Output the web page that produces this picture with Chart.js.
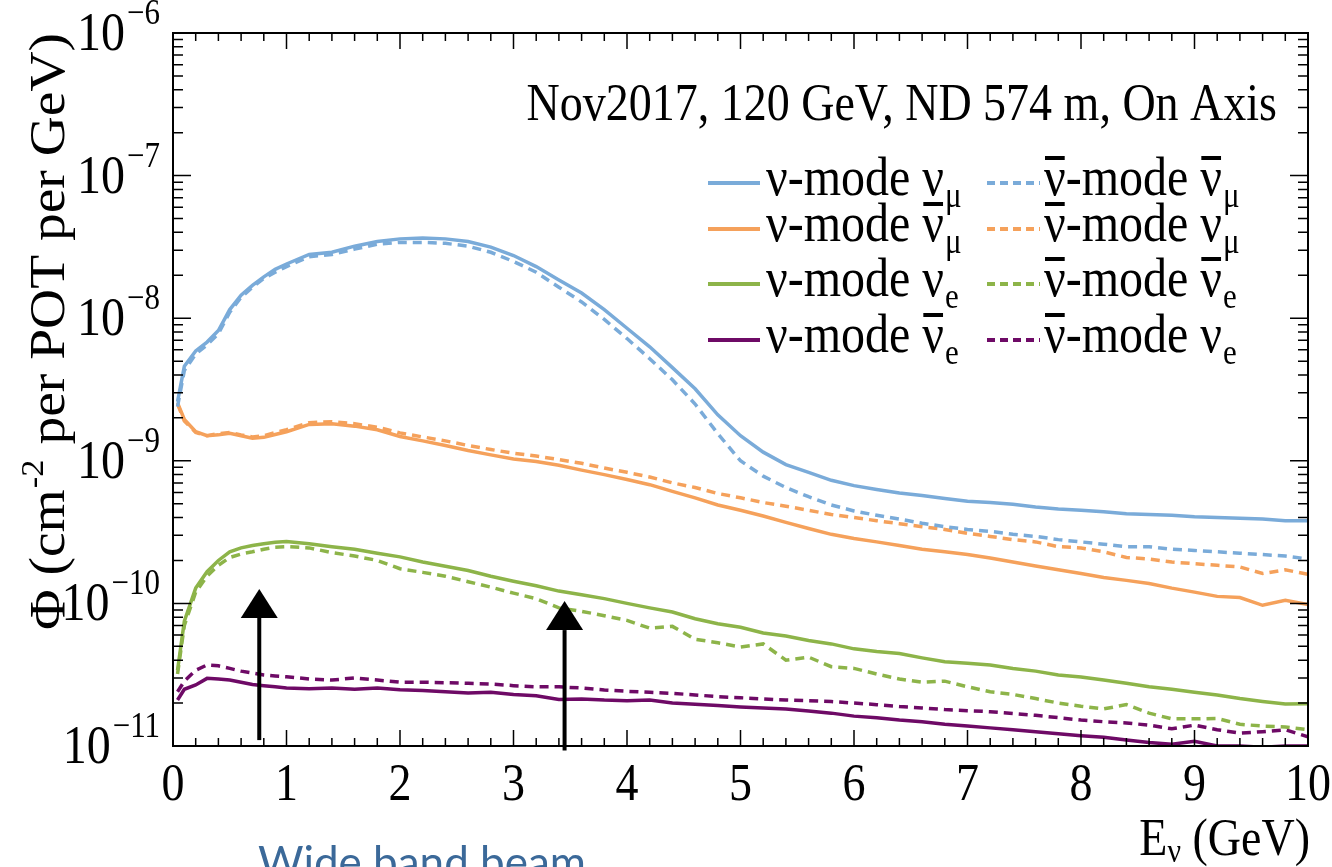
<!DOCTYPE html>
<html>
<head>
<meta charset="utf-8">
<script src="https://cdn.jsdelivr.net/npm/chart.js@4.4.1/dist/chart.umd.min.js"></script>
<style>
  body { margin: 0; background: #fff; }
  canvas { display: block; }
</style>
</head>
<body>
<canvas id="flux" width="1332" height="867"></canvas>
<script>
'use strict';

// neutrino energy (GeV)
var energy = [0.04, 0.1, 0.2, 0.3, 0.4, 0.5, 0.6, 0.7, 0.8, 0.9, 1.0, 1.2, 1.4, 1.6, 1.8, 2.0, 2.2, 2.4, 2.6, 2.8,
  3.0, 3.2, 3.4, 3.6, 3.8, 4.0, 4.2, 4.4, 4.6, 4.8, 5.0, 5.2, 5.4, 5.6, 5.8, 6.0, 6.2, 6.4, 6.6, 6.8,
  7.0, 7.2, 7.4, 7.6, 7.8, 8.0, 8.2, 8.4, 8.6, 8.8, 9.0, 9.2, 9.4, 9.6, 9.8, 10.0];

// nu-mode numu
var fhcNumu = [2.6e-9, 4.6e-9, 5.9e-9, 6.8e-9, 8.2e-9, 1.15e-8, 1.45e-8, 1.7e-8, 1.95e-8, 2.2e-8, 2.4e-8, 2.8e-8, 2.9e-8, 3.2e-8, 3.45e-8, 3.6e-8, 3.65e-8, 3.6e-8, 3.45e-8, 3.15e-8,
  2.75e-8, 2.3e-8, 1.85e-8, 1.5e-8, 1.15e-8, 8.5e-9, 6.3e-9, 4.5e-9, 3.2e-9, 2.1e-9, 1.5e-9, 1.15e-9, 9.4e-10, 8.3e-10, 7.3e-10, 6.7e-10, 6.3e-10, 5.95e-10, 5.7e-10, 5.45e-10,
  5.2e-10, 5.1e-10, 4.95e-10, 4.75e-10, 4.6e-10, 4.5e-10, 4.4e-10, 4.25e-10, 4.2e-10, 4.15e-10, 4.05e-10, 4.0e-10, 3.95e-10, 3.9e-10, 3.8e-10, 3.8e-10];
// antinu-mode numubar
var rhcNumubar = [2.4e-9, 4.3e-9, 5.6e-9, 6.5e-9, 7.8e-9, 1.1e-8, 1.4e-8, 1.65e-8, 1.9e-8, 2.1e-8, 2.3e-8, 2.7e-8, 2.8e-8, 3.05e-8, 3.3e-8, 3.4e-8, 3.4e-8, 3.35e-8, 3.2e-8, 2.9e-8,
  2.5e-8, 2.1e-8, 1.65e-8, 1.3e-8, 9.8e-9, 7.2e-9, 5.2e-9, 3.7e-9, 2.5e-9, 1.55e-9, 1.0e-9, 7.8e-10, 6.5e-10, 5.6e-10, 4.9e-10, 4.45e-10, 4.15e-10, 3.9e-10, 3.65e-10, 3.45e-10,
  3.3e-10, 3.2e-10, 3.05e-10, 2.95e-10, 2.8e-10, 2.7e-10, 2.6e-10, 2.5e-10, 2.5e-10, 2.4e-10, 2.35e-10, 2.3e-10, 2.25e-10, 2.2e-10, 2.15e-10, 2.05e-10];
// nu-mode numubar
var fhcNumubar = [2.55e-9, 1.95e-9, 1.6e-9, 1.5e-9, 1.52e-9, 1.56e-9, 1.5e-9, 1.44e-9, 1.46e-9, 1.53e-9, 1.6e-9, 1.8e-9, 1.82e-9, 1.75e-9, 1.65e-9, 1.48e-9, 1.38e-9, 1.28e-9, 1.18e-9, 1.1e-9,
  1.03e-9, 9.9e-10, 9.3e-10, 8.6e-10, 8.0e-10, 7.4e-10, 6.8e-10, 6.1e-10, 5.5e-10, 4.9e-10, 4.5e-10, 4.1e-10, 3.7e-10, 3.35e-10, 3.05e-10, 2.85e-10, 2.7e-10, 2.55e-10, 2.4e-10, 2.3e-10,
  2.2e-10, 2.08e-10, 1.95e-10, 1.83e-10, 1.72e-10, 1.62e-10, 1.52e-10, 1.45e-10, 1.38e-10, 1.28e-10, 1.2e-10, 1.12e-10, 1.1e-10, 9.7e-11, 1.05e-10, 9.8e-11];
// antinu-mode numu
var rhcNumu = [2.5e-9, 1.9e-9, 1.58e-9, 1.5e-9, 1.55e-9, 1.58e-9, 1.52e-9, 1.47e-9, 1.5e-9, 1.58e-9, 1.65e-9, 1.85e-9, 1.88e-9, 1.82e-9, 1.72e-9, 1.57e-9, 1.47e-9, 1.38e-9, 1.28e-9, 1.2e-9,
  1.13e-9, 1.08e-9, 1.02e-9, 9.6e-10, 8.9e-10, 8.3e-10, 7.7e-10, 7.0e-10, 6.5e-10, 5.9e-10, 5.5e-10, 5.1e-10, 4.8e-10, 4.5e-10, 4.2e-10, 4.0e-10, 3.8e-10, 3.62e-10, 3.45e-10, 3.3e-10,
  3.1e-10, 2.95e-10, 2.8e-10, 2.7e-10, 2.5e-10, 2.45e-10, 2.3e-10, 2.1e-10, 2.05e-10, 1.95e-10, 1.9e-10, 1.85e-10, 1.8e-10, 1.62e-10, 1.72e-10, 1.6e-10];
// nu-mode nue
var fhcNue = [3.4e-11, 7.5e-11, 1.28e-10, 1.67e-10, 2.0e-10, 2.3e-10, 2.45e-10, 2.55e-10, 2.62e-10, 2.68e-10, 2.72e-10, 2.62e-10, 2.5e-10, 2.4e-10, 2.25e-10, 2.12e-10, 1.95e-10, 1.82e-10, 1.7e-10, 1.55e-10,
  1.43e-10, 1.33e-10, 1.22e-10, 1.15e-10, 1.08e-10, 1.0e-10, 9.3e-11, 8.7e-11, 7.8e-11, 7.2e-11, 6.8e-11, 6.2e-11, 5.9e-11, 5.5e-11, 5.2e-11, 4.8e-11, 4.6e-11, 4.45e-11, 4.15e-11, 3.9e-11,
  3.8e-11, 3.7e-11, 3.5e-11, 3.35e-11, 3.15e-11, 3.05e-11, 2.9e-11, 2.75e-11, 2.6e-11, 2.5e-11, 2.38e-11, 2.28e-11, 2.15e-11, 2.05e-11, 1.97e-11, 1.98e-11];
// antinu-mode nuebar
var rhcNuebar = [3.2e-11, 7.0e-11, 1.2e-10, 1.55e-10, 1.85e-10, 2.1e-10, 2.22e-10, 2.3e-10, 2.4e-10, 2.48e-10, 2.5e-10, 2.45e-10, 2.27e-10, 2.15e-10, 2.0e-10, 1.75e-10, 1.65e-10, 1.55e-10, 1.42e-10, 1.3e-10,
  1.18e-10, 1.08e-10, 9.3e-11, 8.8e-11, 8.2e-11, 7.6e-11, 6.7e-11, 6.9e-11, 5.6e-11, 5.3e-11, 4.95e-11, 5.2e-11, 4.0e-11, 4.2e-11, 3.6e-11, 3.5e-11, 3.2e-11, 2.95e-11, 2.8e-11, 2.85e-11,
  2.6e-11, 2.4e-11, 2.3e-11, 2.15e-11, 2.0e-11, 1.9e-11, 1.82e-11, 1.95e-11, 1.7e-11, 1.55e-11, 1.55e-11, 1.56e-11, 1.42e-11, 1.38e-11, 1.36e-11, 1.3e-11];
// nu-mode nuebar
var fhcNuebar = [2.1e-11, 2.5e-11, 2.68e-11, 2.98e-11, 2.95e-11, 2.9e-11, 2.8e-11, 2.7e-11, 2.65e-11, 2.6e-11, 2.55e-11, 2.52e-11, 2.55e-11, 2.5e-11, 2.55e-11, 2.48e-11, 2.45e-11, 2.4e-11, 2.35e-11, 2.38e-11,
  2.3e-11, 2.25e-11, 2.12e-11, 2.14e-11, 2.1e-11, 2.08e-11, 2.1e-11, 2.0e-11, 1.96e-11, 1.92e-11, 1.88e-11, 1.85e-11, 1.82e-11, 1.76e-11, 1.7e-11, 1.62e-11, 1.58e-11, 1.52e-11, 1.48e-11, 1.42e-11,
  1.38e-11, 1.34e-11, 1.3e-11, 1.26e-11, 1.22e-11, 1.18e-11, 1.15e-11, 1.1e-11, 1.06e-11, 1.03e-11, 1.08e-11, 1.0e-11, 1.0e-11, 0.98e-11, 1.0e-11, 1.0e-11];
// antinu-mode nue
var rhcNue = [2.4e-11, 2.85e-11, 3.4e-11, 3.7e-11, 3.65e-11, 3.5e-11, 3.35e-11, 3.25e-11, 3.15e-11, 3.1e-11, 3.06e-11, 2.95e-11, 2.9e-11, 3.0e-11, 2.9e-11, 2.8e-11, 2.8e-11, 2.78e-11, 2.75e-11, 2.72e-11,
  2.65e-11, 2.6e-11, 2.6e-11, 2.55e-11, 2.47e-11, 2.42e-11, 2.38e-11, 2.34e-11, 2.28e-11, 2.22e-11, 2.18e-11, 2.14e-11, 2.1e-11, 2.08e-11, 2.05e-11, 2.0e-11, 1.95e-11, 1.89e-11, 1.85e-11, 1.8e-11,
  1.77e-11, 1.74e-11, 1.69e-11, 1.64e-11, 1.58e-11, 1.52e-11, 1.48e-11, 1.45e-11, 1.4e-11, 1.32e-11, 1.4e-11, 1.3e-11, 1.23e-11, 1.26e-11, 1.3e-11, 1.16e-11];

var xTicks = [0, 1, 2, 3, 4, 5, 6, 7, 8, 9, 10];
var yDecades = [-11, -10, -9, -8, -7, -6];
// arrows: energy of the arrow, flux of tip / head base / tail
var arrowE = [0.76, 3.45];
var arrowTip = [1.26e-10, 1.04e-10];
var arrowBase = [7.9e-11, 6.5e-11];
var arrowTail = [1.1e-11, 0.93e-11];

var BLUE = '#7aabd9';
var ORANGE = '#f5a15b';
var GREEN = '#8db449';
var PURPLE = '#6e0a66';
var SERIF = '"Liberation Serif", "Times New Roman", serif';
var SY = 1.13; // the reference text is drawn a bit taller than wide

function pts(arr) {
  return energy.map(function(e, i) { return {x: e, y: arr[i]}; });
}

function series(label, arr, color, dashed) {
  return {
    label: label,
    data: pts(arr),
    borderColor: color,
    backgroundColor: color,
    borderWidth: 3.5,
    borderDash: dashed ? [9, 6] : [],
    pointRadius: 0,
    tension: 0,
    fill: false
  };
}

var legendRows = [
  {y: 183, color: BLUE, a: [false, false, 'μ'], b: [true, true, 'μ']},
  {y: 229, color: ORANGE, a: [false, true, 'μ'], b: [true, false, 'μ']},
  {y: 284, color: GREEN, a: [false, false, 'e'], b: [true, true, 'e']},
  {y: 340, color: PURPLE, a: [false, true, 'e'], b: [true, false, 'e']}
];

// text with a vertical stretch around its baseline
function txt(ctx, s, x, y) {
  ctx.save();
  ctx.translate(x, y);
  ctx.scale(1, SY);
  ctx.fillText(s, 0, 0);
  ctx.restore();
}

function nuLabel(ctx, x, y, barMode, barFlav, flav) {
  ctx.font = '48px ' + SERIF;
  var wn = ctx.measureText('ν').width;
  txt(ctx, 'ν', x, y);
  if (barMode) ctx.fillRect(x + 1, y - 39, wn - 2, 4);
  x += wn;
  txt(ctx, '-mode ', x, y);
  x += ctx.measureText('-mode ').width;
  txt(ctx, 'ν', x, y);
  if (barFlav) ctx.fillRect(x + 1, y - 39, wn - 2, 4);
  x += wn;
  ctx.font = '31px ' + SERIF;
  txt(ctx, flav, x + 1, y + 12);
}

var decorations = {
  id: 'decorations',
  afterDraw: function(chart) {
    var ctx = chart.ctx;
    var xs = chart.scales.x, ys = chart.scales.y;
    var a = chart.chartArea;
    ctx.save();
    ctx.fillStyle = '#000';
    ctx.strokeStyle = '#000';

    // frame
    ctx.lineWidth = 2;
    ctx.strokeRect(a.left, a.top, a.right - a.left, a.bottom - a.top);

    // x ticks (inside, bottom and top)
    ctx.lineWidth = 1.5;
    ctx.beginPath();
    for (var i = 0; i <= 50; i++) {
      var px = xs.getPixelForValue(i / 5);
      var len = i % 5 === 0 ? 16 : 8;
      ctx.moveTo(px, a.bottom); ctx.lineTo(px, a.bottom - len);
      ctx.moveTo(px, a.top); ctx.lineTo(px, a.top + len);
    }
    // y ticks (inside, left and right)
    for (var d = -11; d < -6; d++) {
      for (var m = 1; m <= 9; m++) {
        var py = ys.getPixelForValue(m * Math.pow(10, d));
        var l = m === 1 ? 18 : 10;
        ctx.moveTo(a.left, py); ctx.lineTo(a.left + l, py);
        ctx.moveTo(a.right, py); ctx.lineTo(a.right - l, py);
      }
    }
    ctx.stroke();

    // x tick labels
    ctx.font = '46px ' + SERIF;
    ctx.textAlign = 'center';
    ctx.textBaseline = 'alphabetic';
    xTicks.forEach(function(v) {
      txt(ctx, String(v), xs.getPixelForValue(v), a.bottom + 54);
    });

    // y tick labels 10^n
    ctx.textAlign = 'right';
    yDecades.forEach(function(d) {
      var py = ys.getPixelForValue(Math.pow(10, d));
      var expo = '\u2212' + String(-d);
      ctx.font = '31px ' + SERIF;
      var ew = ctx.measureText(expo).width;
      txt(ctx, expo, 160, py - 9);
      ctx.font = '48px ' + SERIF;
      txt(ctx, '10', 160 - ew - 2, py + 17);
    });

    // x axis title
    ctx.textAlign = 'left';
    ctx.font = '46px ' + SERIF;
    var t1 = ' (GeV)';
    var w1 = ctx.measureText(t1).width;
    var wE = ctx.measureText('E').width;
    ctx.font = '30px ' + SERIF;
    var wnu = ctx.measureText('ν').width;
    var x0 = 1310 - w1 - wnu - wE;
    ctx.font = '46px ' + SERIF;
    txt(ctx, 'E', x0, 855);
    txt(ctx, t1, x0 + wE + wnu, 855);
    ctx.font = '30px ' + SERIF;
    txt(ctx, 'ν', x0 + wE, 862);

    // y axis title (rotated, stretched along its length)
    ctx.save();
    ctx.translate(64, 630);
    ctx.rotate(-Math.PI / 2);
    ctx.scale(1.11, 1);
    ctx.font = '50px ' + SERIF;
    var p1 = 'Φ (cm';
    ctx.fillText(p1, 0, 0);
    var q = ctx.measureText(p1).width;
    ctx.font = '31px ' + SERIF;
    ctx.fillText('-2', q + 1, -21);
    q += ctx.measureText('-2').width + 2;
    ctx.font = '50px ' + SERIF;
    ctx.fillText(' per POT per GeV)', q, 0);
    ctx.restore();

    // header
    ctx.font = '46px ' + SERIF;
    ctx.textAlign = 'right';
    txt(ctx, 'Nov2017, 120 GeV, ND 574 m, On Axis', 1277, 120);
    ctx.textAlign = 'left';

    // legend
    legendRows.forEach(function(r) {
      var ly = r.y;
      ctx.strokeStyle = r.color;
      ctx.lineWidth = 4;
      ctx.setLineDash([]);
      ctx.beginPath(); ctx.moveTo(708, ly); ctx.lineTo(760, ly); ctx.stroke();
      ctx.setLineDash([8, 5]);
      ctx.beginPath(); ctx.moveTo(987, ly); ctx.lineTo(1040, ly); ctx.stroke();
      ctx.setLineDash([]);
      ctx.fillStyle = '#000';
      nuLabel(ctx, 766, ly + 12, r.a[0], r.a[1], r.a[2]);
      nuLabel(ctx, 1044, ly + 12, r.b[0], r.b[1], r.b[2]);
    });

    // arrows
    ctx.fillStyle = '#000';
    ctx.strokeStyle = '#000';
    ctx.lineWidth = 4;
    arrowE.forEach(function(e, k) {
      var px = xs.getPixelForValue(e);
      var tip = ys.getPixelForValue(arrowTip[k]);
      var base = ys.getPixelForValue(arrowBase[k]);
      var tail = ys.getPixelForValue(arrowTail[k]);
      ctx.beginPath(); ctx.moveTo(px, tail); ctx.lineTo(px, base); ctx.stroke();
      ctx.beginPath();
      ctx.moveTo(px, tip); ctx.lineTo(px - 18.5, base); ctx.lineTo(px + 18.5, base);
      ctx.closePath(); ctx.fill();
    });

    // caption at the bottom
    ctx.fillStyle = '#3b6999';
    ctx.font = '44px Lato, "Open Sans", sans-serif';
    ctx.fillText('Wide band beam', 258, 878);
    ctx.restore();
  }
};

var chart = new Chart(document.getElementById('flux'), {
  type: 'line',
  data: {
    datasets: [
      series('ν̄-mode ν̄e', rhcNuebar, GREEN, true),
      series('ν̄-mode νe', rhcNue, PURPLE, true),
      series('ν̄-mode ν̄μ', rhcNumubar, BLUE, true),
      series('ν̄-mode νμ', rhcNumu, ORANGE, true),
      series('ν-mode νμ', fhcNumu, BLUE, false),
      series('ν-mode ν̄μ', fhcNumubar, ORANGE, false),
      series('ν-mode νe', fhcNue, GREEN, false),
      series('ν-mode ν̄e', fhcNuebar, PURPLE, false)
    ]
  },
  options: {
    responsive: false,
    animation: false,
    layout: { padding: { left: 173, right: 24, top: 33, bottom: 121 } },
    plugins: { legend: { display: false }, tooltip: { enabled: false } },
    scales: {
      x: { type: 'linear', min: 0, max: 10, display: false },
      y: { type: 'logarithmic', min: 1e-11, max: 1e-6, display: false }
    }
  },
  plugins: [decorations]
});
</script>
</body>
</html>
